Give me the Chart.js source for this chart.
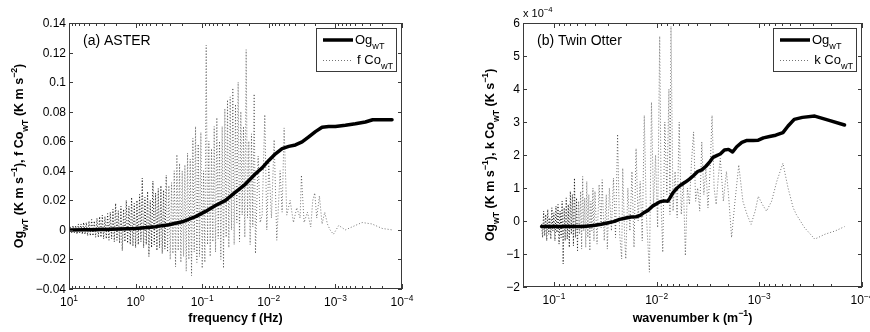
<!DOCTYPE html>
<html>
<head>
<meta charset="utf-8">
<script src="https://cdn.jsdelivr.net/npm/chart.js@4/dist/chart.umd.min.js"></script>
<style>
  body { margin: 0; background: #fff; }
  #wrap { position: relative; width: 870px; height: 332px; }
  canvas { position: absolute; top: 0; }
</style>
</head>
<body>
<div id="wrap">
  <canvas id="chartA" width="435" height="332" style="left:0"></canvas>
  <canvas id="chartB" width="435" height="332" style="left:435px"></canvas>
</div>
<script>
// ---- panel (a) ASTER : x = log10 of frequency f (Hz), y in K m s^-2 ----
const OG_A_LOGF = [1.0, 0.5, 0.0, -0.3, -0.5, -0.7, -0.9, -1.05, -1.2, -1.35, -1.5, -1.65, -1.8, -1.9, -2.0,
  -2.1, -2.2, -2.3, -2.4, -2.5, -2.6, -2.7, -2.8, -2.9, -3.0, -3.15, -3.3, -3.45, -3.56, -3.85];
const OG_A = [0.0, 0.0003, 0.0010, 0.0022, 0.0035, 0.0055, 0.0090, 0.0125, 0.0165, 0.0200, 0.0255, 0.031, 0.038, 0.042, 0.047,
  0.0515, 0.0550, 0.0565, 0.0575, 0.0595, 0.0630, 0.0665, 0.0695, 0.0700, 0.0700, 0.0708, 0.0718, 0.0730, 0.0745, 0.0745];

const CO_A_LOGF = [1.00, 0.98, 0.96, 0.94, 0.92, 0.90, 0.88, 0.86, 0.84, 0.82,
  0.80, 0.78, 0.76, 0.74, 0.72, 0.70, 0.68, 0.66, 0.64, 0.62,
  0.60, 0.58, 0.56, 0.54, 0.52, 0.50, 0.48, 0.46, 0.44, 0.42,
  0.40, 0.38, 0.36, 0.34, 0.32, 0.30, 0.28, 0.26, 0.24, 0.22,
  0.20, 0.18, 0.16, 0.14, 0.12, 0.10, 0.08, 0.06, 0.04, 0.02, 0.00,
  -0.02, -0.04, -0.06, -0.08, -0.10, -0.12, -0.14, -0.16, -0.18, -0.20,
  -0.22, -0.24, -0.26, -0.28, -0.30, -0.32, -0.34, -0.36, -0.38, -0.40,
  -0.42, -0.44, -0.46, -0.48, -0.50, -0.52, -0.54, -0.56, -0.58, -0.60,
  -0.62, -0.64, -0.66, -0.68, -0.70, -0.72, -0.74, -0.76, -0.78, -0.80,
  -0.82, -0.84, -0.86, -0.88, -0.90, -0.92, -0.94, -0.96, -0.98, -1.00,
  -1.02, -1.04, -1.06, -1.08, -1.10, -1.12, -1.14, -1.16, -1.18, -1.20,
  -1.22, -1.24, -1.26, -1.28, -1.30, -1.32, -1.34, -1.36, -1.38, -1.40,
  -1.42, -1.44, -1.46, -1.48, -1.50, -1.52, -1.54, -1.56, -1.58, -1.60,
  -1.62, -1.64, -1.66, -1.68, -1.70, -1.72, -1.74, -1.76, -1.78, -1.80,
  -1.84, -1.87, -1.90, -1.94, -1.97, -2.00, -2.04, -2.08, -2.12, -2.17,
  -2.20, -2.23, -2.27, -2.32, -2.37, -2.42, -2.47, -2.49, -2.53, -2.58,
  -2.63, -2.66, -2.69, -2.72, -2.76, -2.80, -2.84, -2.88, -2.92, -2.97,
  -3.05, -3.15, -3.25, -3.40, -3.55, -3.70, -3.85];
const CO_A = [0.000, 0.002, -0.002, 0.003, -0.002, 0.003, -0.003, 0.004, -0.002, 0.004,
  -0.003, 0.005, -0.003, 0.005, -0.004, 0.006, -0.004, 0.007, -0.004, 0.006,
  -0.005, 0.008, -0.005, 0.009, -0.005, 0.010, -0.006, 0.009, -0.006, 0.011,
  -0.007, 0.012, -0.006, 0.014, -0.008, 0.018, -0.007, 0.013, -0.009, 0.016,
  -0.014, 0.014, -0.008, 0.020, -0.009, 0.016, -0.010, 0.022, -0.011, 0.018, -0.012,
  0.020, -0.010, 0.024, -0.008, 0.035, -0.012, 0.022, -0.010, 0.026, -0.018,
  0.020, -0.012, 0.033, -0.010, 0.025, -0.014, 0.028, -0.012, 0.030, -0.016,
  0.027, -0.013, 0.037, -0.015, 0.030, -0.020, 0.032, -0.016, 0.040, -0.025,
  0.051, -0.014, 0.045, -0.022, 0.040, -0.018, 0.044, -0.028, 0.052, -0.020,
  0.048, -0.031, 0.062, -0.015, 0.070, -0.022, 0.058, -0.018, 0.066, -0.026,
  0.040, -0.022, 0.125, -0.010, 0.060, -0.018, 0.055, -0.008, 0.070, -0.015,
  0.076, -0.006, 0.060, -0.020, 0.070, -0.026, 0.082, -0.005, 0.088, -0.012,
  0.090, 0.000, 0.096, -0.010, 0.085, 0.005, 0.100, -0.008, 0.080, 0.010,
  0.070, -0.005, 0.122, 0.008, 0.060, -0.010, 0.065, 0.002, 0.092, -0.016,
  0.050, 0.005, 0.010, 0.078, 0.000, 0.045, 0.008, 0.061, -0.007, 0.040,
  0.012, 0.069, 0.010, 0.020, 0.005, 0.015, 0.008, 0.037, 0.005, 0.012,
  0.002, 0.020, 0.025, 0.008, 0.023, 0.004, 0.012, 0.004, 0.000, -0.003,
  0.003, 0.000, 0.002, 0.005, 0.004, 0.001, 0.000];

const Y_TICKS_A = [-0.04, -0.02, 0, 0.02, 0.04, 0.06, 0.08, 0.1, 0.12, 0.14];
const Y_LABELS_A = ['\u22120.04', '\u22120.02', '0', '0.02', '0.04', '0.06', '0.08', '0.1', '0.12', '0.14'];
const X_TICKS_A = [10, 1, 0.1, 0.01, 0.001, 0.0001];
const X_EXPS_A = ['1', '0', '\u22121', '\u22122', '\u22123', '\u22124'];

// ---- panel (b) Twin Otter : x = log10 of wavenumber k (1/m), y in 1e-4 K s^-1 ----
const OG_B_LOGK = [-0.88, -1.00, -1.10, -1.20, -1.28, -1.34, -1.40, -1.46, -1.52, -1.58,
  -1.64, -1.70, -1.75, -1.80, -1.84, -1.88, -1.92, -1.96, -2.00, -2.03,
  -2.07, -2.11, -2.13, -2.16, -2.20, -2.24, -2.28, -2.32, -2.36, -2.40,
  -2.44, -2.48, -2.52, -2.55, -2.59, -2.62, -2.66, -2.70, -2.74, -2.78,
  -2.83, -2.88, -2.94, -2.99, -3.04, -3.10, -3.16, -3.23, -3.28, -3.34,
  -3.42, -3.54, -3.68, -3.83];
const OG_B = [-0.17, -0.17, -0.17, -0.17, -0.17, -0.15, -0.13, -0.10, -0.06, -0.02,
  0.05, 0.09, 0.12, 0.13, 0.17, 0.26, 0.33, 0.45, 0.52, 0.58,
  0.61, 0.60, 0.70, 0.86, 1.00, 1.10, 1.18, 1.27, 1.38, 1.50,
  1.55, 1.66, 1.80, 1.93, 1.99, 2.03, 2.15, 2.17, 2.09, 2.25,
  2.38, 2.44, 2.44, 2.45, 2.52, 2.56, 2.60, 2.68, 2.88, 3.08,
  3.14, 3.18, 3.05, 2.91];

const CO_B_LOGK = [-0.88, -0.89, -0.90, -0.91, -0.92, -0.93, -0.94, -0.95, -0.96, -0.97,
  -0.98, -0.99, -1.00, -1.01, -1.02, -1.03, -1.04, -1.05, -1.06, -1.07,
  -1.08, -1.09, -1.10, -1.11, -1.12, -1.13, -1.14, -1.15, -1.16, -1.17,
  -1.18, -1.19, -1.20, -1.21, -1.22, -1.23, -1.24, -1.25, -1.26, -1.27,
  -1.28, -1.29, -1.30, -1.31, -1.32, -1.33, -1.34, -1.35, -1.36, -1.37,
  -1.38, -1.39, -1.40, -1.42, -1.44, -1.46, -1.47, -1.49, -1.51, -1.52,
  -1.54, -1.56, -1.58, -1.60, -1.62, -1.64, -1.66, -1.67, -1.69, -1.70,
  -1.72, -1.74, -1.76, -1.78, -1.80, -1.82, -1.84, -1.86, -1.88, -1.90,
  -1.93, -1.95, -1.97, -1.99, -2.01, -2.03, -2.045, -2.06, -2.08, -2.10,
  -2.12, -2.13, -2.14, -2.16, -2.18, -2.20, -2.22, -2.24, -2.26, -2.28, -2.30,
  -2.32, -2.34, -2.36, -2.38, -2.40, -2.42, -2.44, -2.46, -2.48, -2.50,
  -2.52, -2.54, -2.56, -2.58, -2.60, -2.62, -2.65, -2.68, -2.70, -2.73,
  -2.76, -2.80, -2.84, -2.88, -2.92, -2.96, -2.99, -3.03, -3.07, -3.12,
  -3.17, -3.23, -3.28, -3.33, -3.36, -3.44, -3.54, -3.64, -3.74, -3.83];
const CO_B = [-0.1, -0.5, 0.3, -0.45, 0.2, -0.6, 0.35, -0.4, 0.1, -0.55,
  0.4, -0.3, 0.25, -0.6, 0.45, -0.35, 0.5, -0.7, 0.3, -0.5,
  0.6, -1.3, 0.4, -0.6, 0.7, -0.55, 0.5, -0.8, 0.9, -0.4,
  0.8, -0.75, 1.3, -0.5, 0.7, -0.9, 0.6, -0.4, 0.9, -0.85,
  1.35, -0.3, 0.7, -0.8, 1.2, -0.5, 0.8, -0.9, 0.6, -0.3,
  1.0, -0.6, 0.9, -0.7, 1.1, -0.2, 1.25, -0.6, 0.8, -0.85,
  1.0, -0.3, 1.3, -0.5, 2.63, -0.4, -1.15, 1.6, -0.6, -1.15,
  1.0, -0.3, 1.5, -0.8, 2.2, 0.0, 1.2, -0.6, 3.2, 0.2,
  -1.55, 3.6, 0.5, 2.0, -0.2, 5.6, 0.4, -0.95, 3.0, 0.8,
  4.0, 0.2, 5.9, 0.3, 1.5, 0.1, 3.0, 0.2, 1.2, -1.05, 1.0,
  0.5, 1.8, 2.7, 0.6, 1.0, 0.3, 2.4, 0.8, 1.6, 0.4,
  1.5, 3.2, 1.0, 0.5, 1.3, 1.9, 0.6, 1.5, 0.8, -0.5,
  0.5, 1.7, 0.6, 0.2, -0.1, 0.3, 0.75, 0.5, 0.3, 0.6,
  1.2, 1.75, 1.0, 0.4, 0.2, -0.2, -0.55, -0.4, -0.3, -0.17];

const Y_TICKS_B = [-2, -1, 0, 1, 2, 3, 4, 5, 6];
const Y_LABELS_B = ['\u22122', '\u22121', '0', '1', '2', '3', '4', '5', '6'];
const X_TICKS_B = [0.1, 0.01, 0.001, 0.0001];
const X_EXPS_B = ['\u22121', '\u22122', '\u22123', '\u22124'];

const FONT = '"Liberation Sans", Arial, Helvetica, sans-serif';

function toPoints(logs, vals) {
  return logs.map((e, i) => ({ x: Math.pow(10, e), y: vals[i] }));
}

// text with sub/superscript pieces: parts = [[text, 'n'|'sub'|'sup'], ...]
function drawRich(ctx, parts, x, y, size, bold, align) {
  const w = bold ? 'bold ' : '';
  const fontFor = k => w + (k === 'n' ? size : size * 0.7) + 'px ' + FONT;
  let total = 0;
  parts.forEach(p => { ctx.font = fontFor(p[1]); total += ctx.measureText(p[0]).width; });
  let cx = align === 'center' ? x - total / 2 : (align === 'right' ? x - total : x);
  ctx.textAlign = 'left';
  ctx.textBaseline = 'alphabetic';
  parts.forEach(p => {
    ctx.font = fontFor(p[1]);
    const dy = p[1] === 'sub' ? size * 0.4 : (p[1] === 'sup' ? -size * 0.45 : 0);
    ctx.fillText(p[0], cx, y + dy);
    cx += ctx.measureText(p[0]).width;
  });
}

function framePlugin(cfg) {
  return {
    id: 'frame',
    afterDraw(chart) {
      const ctx = chart.ctx;
      const a = chart.chartArea;
      const xs = chart.scales.x, ys = chart.scales.y;
      ctx.save();
      ctx.strokeStyle = '#3a3a3a';
      ctx.lineWidth = 1;
      ctx.strokeRect(a.left + 0.5, a.top + 0.5, a.right - a.left - 1, a.bottom - a.top - 1);

      // y ticks (inward, both sides) and labels
      ctx.fillStyle = '#000';
      cfg.yTicks.forEach((v, i) => {
        const py = Math.round(ys.getPixelForValue(v)) + 0.5;
        ctx.beginPath();
        ctx.moveTo(a.left, py); ctx.lineTo(a.left + 4, py);
        ctx.moveTo(a.right, py); ctx.lineTo(a.right - 4, py);
        ctx.stroke();
        ctx.font = '12px ' + FONT;
        ctx.textAlign = 'right';
        ctx.textBaseline = 'middle';
        ctx.fillText(cfg.yLabels[i], a.left - 3, py);
      });

      // x ticks: decades and minor ticks, top and bottom, inward
      const lo = xs.min, hi = xs.max;
      cfg.xTicks.forEach(d => {
        for (let m = 1; m <= 9; m++) {
          const v = m * d;
          if (v < lo * 0.999 || v > hi * 1.001) continue;
          const px = Math.round(xs.getPixelForValue(v)) + 0.5;
          const len = m === 1 ? 5 : 3;
          ctx.beginPath();
          ctx.moveTo(px, a.bottom); ctx.lineTo(px, a.bottom - len);
          ctx.moveTo(px, a.top); ctx.lineTo(px, a.top + len);
          ctx.stroke();
        }
      });
      cfg.xTicks.forEach((d, i) => {
        const px = xs.getPixelForValue(d);
        drawRich(ctx, [['10', 'n'], [cfg.xExps[i], 'sup']], px, a.bottom + 17, 12, false, 'center');
      });

      // axis titles
      drawRich(ctx, cfg.xTitle, (a.left + a.right) / 2, 322, 12.5, true, 'center');
      ctx.save();
      ctx.translate(cfg.yTitleX, (a.top + a.bottom) / 2);
      ctx.rotate(-Math.PI / 2);
      drawRich(ctx, cfg.yTitle, 0, 0, 12.5, true, 'center');
      ctx.restore();

      // panel label
      ctx.font = '14px ' + FONT;
      ctx.textAlign = 'left';
      ctx.textBaseline = 'alphabetic';
      ctx.fillText(cfg.panel, a.left + 14, 45);
      if (cfg.multiplier) drawRich(ctx, cfg.multiplier, a.left, 17, 11, false, 'left');

      // legend
      const L = cfg.legend;
      ctx.fillStyle = '#fff';
      ctx.fillRect(L.x, L.y, L.w, L.h);
      ctx.strokeStyle = '#3a3a3a';
      ctx.strokeRect(L.x + 0.5, L.y + 0.5, L.w, L.h);
      ctx.fillStyle = '#000';
      ctx.strokeStyle = '#000';
      ctx.lineWidth = 3.5;
      ctx.beginPath();
      ctx.moveTo(L.x + 7, L.y + 12); ctx.lineTo(L.x + 37, L.y + 12);
      ctx.stroke();
      ctx.lineWidth = 1;
      ctx.setLineDash([1, 2]);
      ctx.strokeStyle = 'rgba(0,0,0,0.55)';
      ctx.beginPath();
      ctx.moveTo(L.x + 7, L.y + 32.5); ctx.lineTo(L.x + 37, L.y + 32.5);
      ctx.stroke();
      ctx.setLineDash([]);
      drawRich(ctx, [['Og', 'n'], ['wT', 'sub']], L.x + 39, L.y + 16, 13, false, 'left');
      drawRich(ctx, [[L.second, 'n'], ['wT', 'sub']], L.x + L.w - 3, L.y + 36, 13, false, 'right');
      ctx.restore();
    }
  };
}

function makeChart(id, cfg) {
  return new Chart(document.getElementById(id), {
    type: 'line',
    data: {
      datasets: [
        { data: cfg.og, borderColor: '#000', borderWidth: 3.5, pointRadius: 0, borderJoinStyle: 'round', borderCapStyle: 'round' },
        {
          data: cfg.co, borderWidth: 1, borderDash: [1, 2], pointRadius: 0,
          borderColor: 'rgba(0,0,0,0.55)',
          // denser, darker band at the high-frequency end, as in the original
          segment: { borderColor: c => (c.p0.parsed.x > cfg.darkAbove ? 'rgba(0,0,0,0.9)' : 'rgba(0,0,0,0.55)') }
        }
      ]
    },
    options: {
      responsive: false,
      animation: false,
      events: [],
      layout: { padding: cfg.pad },
      plugins: { legend: { display: false }, tooltip: { enabled: false } },
      scales: {
        x: { type: 'logarithmic', reverse: true, min: cfg.xMin, max: cfg.xMax, display: false },
        y: { type: 'linear', min: cfg.yMin, max: cfg.yMax, display: false }
      }
    },
    plugins: [framePlugin(cfg)]
  });
}

makeChart('chartA', {
  og: toPoints(OG_A_LOGF, OG_A),
  co: toPoints(CO_A_LOGF, CO_A),
  darkAbove: 0.35,
  pad: { left: 69, right: 33, top: 23, bottom: 43 },
  xMin: 0.0001, xMax: 10, yMin: -0.04, yMax: 0.14,
  yTicks: Y_TICKS_A, yLabels: Y_LABELS_A, xTicks: X_TICKS_A, xExps: X_EXPS_A,
  xTitle: [['frequency f (Hz)', 'n']],
  yTitle: [['Og', 'n'], ['wT', 'sub'], [' (K m s', 'n'], ['\u22121', 'sup'], ['), f Co', 'n'], ['wT', 'sub'], [' (K m s', 'n'], ['\u22122', 'sup'], [')', 'n']],
  yTitleX: 22.5,
  panel: '(a) ASTER',
  legend: { x: 316, y: 28, w: 80, h: 43, second: 'f Co' }
});

makeChart('chartB', {
  og: toPoints(OG_B_LOGK, OG_B),
  co: toPoints(CO_B_LOGK, CO_B),
  darkAbove: 0.06,
  pad: { left: 88, right: 8, top: 23, bottom: 45 },
  xMin: 0.0001, xMax: 0.2, yMin: -2, yMax: 6,
  yTicks: Y_TICKS_B, yLabels: Y_LABELS_B, xTicks: X_TICKS_B, xExps: X_EXPS_B,
  xTitle: [['wavenumber k (m', 'n'], ['\u22121', 'sup'], [')', 'n']],
  yTitle: [['Og', 'n'], ['wT', 'sub'], [' (K m s', 'n'], ['\u22121', 'sup'], ['), k Co', 'n'], ['wT', 'sub'], [' (K s', 'n'], ['\u22121', 'sup'], [')', 'n']],
  yTitleX: 59,
  panel: '(b) Twin Otter',
  multiplier: [['x 10', 'n'], ['\u22124', 'sup']],
  legend: { x: 338, y: 28, w: 83, h: 43, second: 'k Co' }
});
</script>
</body>
</html>
